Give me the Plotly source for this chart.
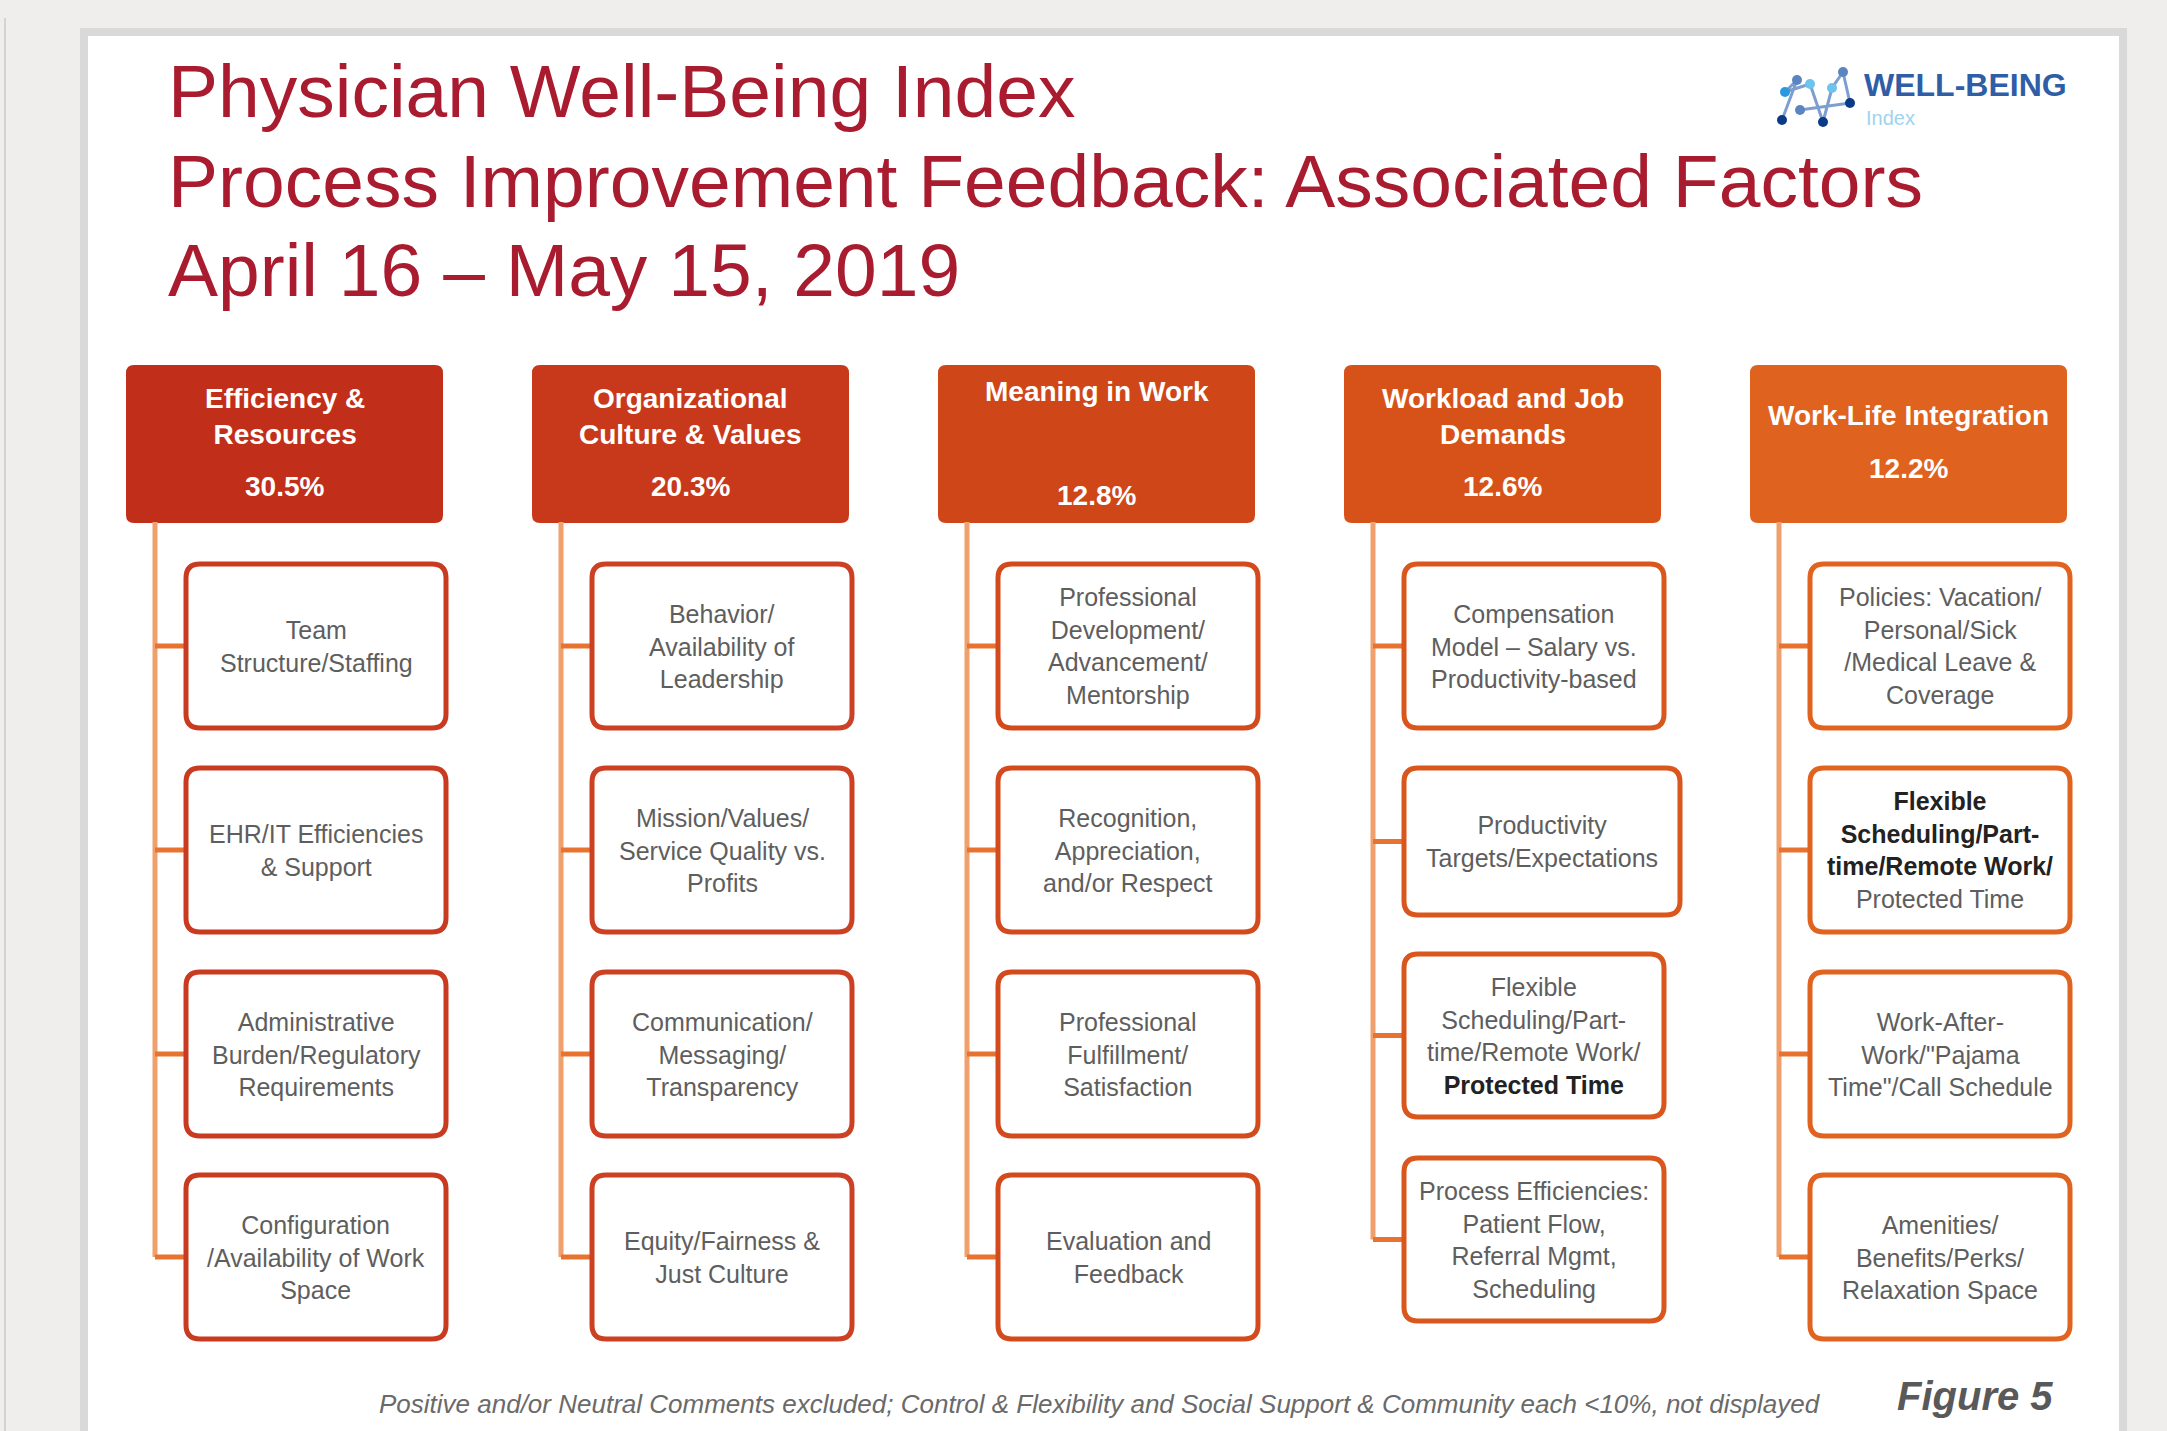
import plotly.graph_objects as go

W, H = 2167, 1431

# --- data -------------------------------------------------------------
title_lines = ["Physician Well-Being Index",
               "Process Improvement Feedback: Associated Factors",
               "April 16 – May 15, 2019"]

categories = ["Efficiency &<br>Resources",
              "Organizational<br>Culture & Values",
              "Meaning in Work",
              "Workload and Job<br>Demands",
              "Work-Life Integration"]
shares = [30.5, 20.3, 12.8, 12.6, 12.2]

factors = [
    ["Team<br>Structure/Staffing",
     "EHR/IT Efficiencies<br>& Support",
     "Administrative<br>Burden/Regulatory<br>Requirements",
     "Configuration<br>/Availability of Work<br>Space"],
    ["Behavior/<br>Availability of<br>Leadership",
     "Mission/Values/<br>Service Quality vs.<br>Profits",
     "Communication/<br>Messaging/<br>Transparency",
     "Equity/Fairness &<br>Just Culture"],
    ["Professional<br>Development/<br>Advancement/<br>Mentorship",
     "Recognition,<br>Appreciation,<br>and/or Respect",
     "Professional<br>Fulfillment/<br>Satisfaction",
     "Evaluation and<br>Feedback"],
    ["Compensation<br>Model – Salary vs.<br>Productivity-based",
     "Productivity<br>Targets/Expectations",
     "Flexible<br>Scheduling/Part-<br>time/Remote Work/<br><b><span style='color:#222'>Protected Time</span></b>",
     "Process Efficiencies:<br>Patient Flow,<br>Referral Mgmt,<br>Scheduling"],
    ["Policies: Vacation/<br>Personal/Sick<br>/Medical Leave &<br>Coverage",
     "<b><span style='color:#222'>Flexible<br>Scheduling/Part-<br>time/Remote Work/</span></b><br>Protected Time",
     "Work-After-<br>Work/\"Pajama<br>Time\"/Call Schedule",
     "Amenities/<br>Benefits/Perks/<br>Relaxation Space"],
]

footnote = ("Positive and/or Neutral Comments excluded; Control & Flexibility and "
            "Social Support & Community each <10%, not displayed")
figure_label = "Figure 5"

# --- style / layout ---------------------------------------------------
header_colors = ["#c12f1b", "#c8391b", "#cf4618", "#d75219", "#df621e"]
border_colors = ["#c93b21", "#cc4123", "#d34a1c", "#d9561c", "#e0631f"]
trunk_color = "#f0a06c"
stub_color = "#e8722f"
title_color = "#a91b2f"
text_gray = "#5e5e5e"

col_x0, col_pitch = 127, 406
head_top, head_bot, head_w = 366, 522, 315
box_dx, box_w, trunk_dx = 59, 260, 28
row_tops = [564, 768, 972, 1175]
row_h = [164, 164, 164, 164]
# the workload column is laid out a little differently
col_rows = {3: dict(tops=[564, 768, 954, 1158], h=[164, 147, 163, 163],
                    w=[260, 276, 260, 260])}
name_y = [416, 416, 391, 416, 415]
pct_y = [486, 486, 495, 486, 468]
title_y = [91, 181, 270]


def rrect(x0, y0, x1, y1, r):
    return (f"M{x0+r},{y0} L{x1-r},{y0} Q{x1},{y0} {x1},{y0+r} "
            f"L{x1},{y1-r} Q{x1},{y1} {x1-r},{y1} L{x0+r},{y1} "
            f"Q{x0},{y1} {x0},{y1-r} L{x0},{y0+r} Q{x0},{y0} {x0+r},{y0} Z")


shapes = []
annotations = []

# slide frame
shapes.append(dict(type="line", x0=5, x1=5, y0=18, y1=H,
                   line=dict(color="#d3d3d3", width=2)))
shapes.append(dict(type="rect", x0=84, x1=2123, y0=32, y1=H + 20,
                   fillcolor="white", line=dict(color="#d9d9d9", width=8),
                   layer="below"))

# titles
for i, t in enumerate(title_lines):
    annotations.append(dict(x=166, y=title_y[i], text=t, xanchor="left",
                            yanchor="middle", showarrow=False,
                            font=dict(family="Liberation Sans", size=75,
                                      color=title_color)))

for c, name in enumerate(categories):
    hx0 = col_x0 + c * col_pitch
    # header box
    shapes.append(dict(type="path", path=rrect(hx0, head_top, hx0 + head_w, head_bot, 7),
                       fillcolor=header_colors[c], line=dict(color=header_colors[c], width=2)))
    annotations.append(dict(x=hx0 + head_w / 2, y=name_y[c], text=f"<b>{name}</b>",
                            showarrow=False, xanchor="center", yanchor="middle",
                            font=dict(family="Liberation Sans", size=28, color="white")))
    annotations.append(dict(x=hx0 + head_w / 2, y=pct_y[c], text=f"<b>{shares[c]:.1f}%</b>",
                            showarrow=False, xanchor="center", yanchor="middle",
                            font=dict(family="Liberation Sans", size=28, color="white")))

    lay = col_rows.get(c, dict(tops=row_tops, h=row_h, w=[box_w] * 4))
    tx = hx0 + trunk_dx
    bx0 = hx0 + box_dx
    mids = [t + h / 2 for t, h in zip(lay["tops"], lay["h"])]
    # trunk line
    shapes.append(dict(type="line", x0=tx, x1=tx, y0=head_bot, y1=mids[-1],
                       line=dict(color=trunk_color, width=5)))
    for r, label in enumerate(factors[c]):
        top, h, w = lay["tops"][r], lay["h"][r], lay["w"][r]
        shapes.append(dict(type="line", x0=tx, x1=bx0, y0=mids[r], y1=mids[r],
                           line=dict(color=stub_color, width=5)))
        shapes.append(dict(type="path", path=rrect(bx0, top, bx0 + w, top + h, 14),
                           fillcolor="white", line=dict(color=border_colors[c], width=5)))
        annotations.append(dict(x=bx0 + w / 2, y=mids[r], text=label, showarrow=False,
                                xanchor="center", yanchor="middle", align="center",
                                font=dict(family="Liberation Sans", size=25, color=text_gray)))

# footer
annotations.append(dict(x=1100, y=1404, text=f"<i>{footnote}</i>", showarrow=False,
                        xanchor="center", yanchor="middle",
                        font=dict(family="Liberation Sans", size=26, color="#6a6a6a")))
annotations.append(dict(x=1975, y=1396, text=f"<b><i>{figure_label}</i></b>", showarrow=False,
                        xanchor="center", yanchor="middle",
                        font=dict(family="Liberation Sans", size=40, color="#595959")))

# logo
logo_x = [1782, 1797, 1785, 1810, 1823, 1832, 1843, 1850, 1800]
logo_y = [120, 80, 92, 84, 122, 88, 72, 103, 110]
logo_c = ["#0b3a86", "#5b84c0", "#2a9ae0", "#6cc3ec", "#0b3a86", "#6cc3ec",
          "#5b84c0", "#0b3a86", "#5b84c0"]
fig = go.Figure()
fig.add_trace(go.Scatter(x=logo_x, y=logo_y, mode="lines+markers",
                         line=dict(color="#7d9fd0", width=3),
                         marker=dict(color=logo_c, size=10), hoverinfo="skip",
                         showlegend=False))
annotations.append(dict(x=1862, y=85, text="<b>WELL-BEING</b>", showarrow=False,
                        xanchor="left", yanchor="middle",
                        font=dict(family="Liberation Sans", size=32, color="#2f5ea6")))
annotations.append(dict(x=1864, y=118, text="Index", showarrow=False,
                        xanchor="left", yanchor="middle",
                        font=dict(family="Liberation Sans", size=20, color="#9fd3ee")))

fig.update_layout(
    width=W, height=H, autosize=False,
    margin=dict(l=0, r=0, t=0, b=0),
    paper_bgcolor="#efeeec", plot_bgcolor="#efeeec",
    xaxis=dict(range=[0, W], visible=False, fixedrange=True),
    yaxis=dict(range=[H, 0], visible=False, fixedrange=True),
    shapes=shapes, annotations=annotations,
)

fig.write_html("out.html", config={"displayModeBar": False},
               post_script="document.body.style.margin='0';"
                           "document.body.style.background='#efeeec';")
